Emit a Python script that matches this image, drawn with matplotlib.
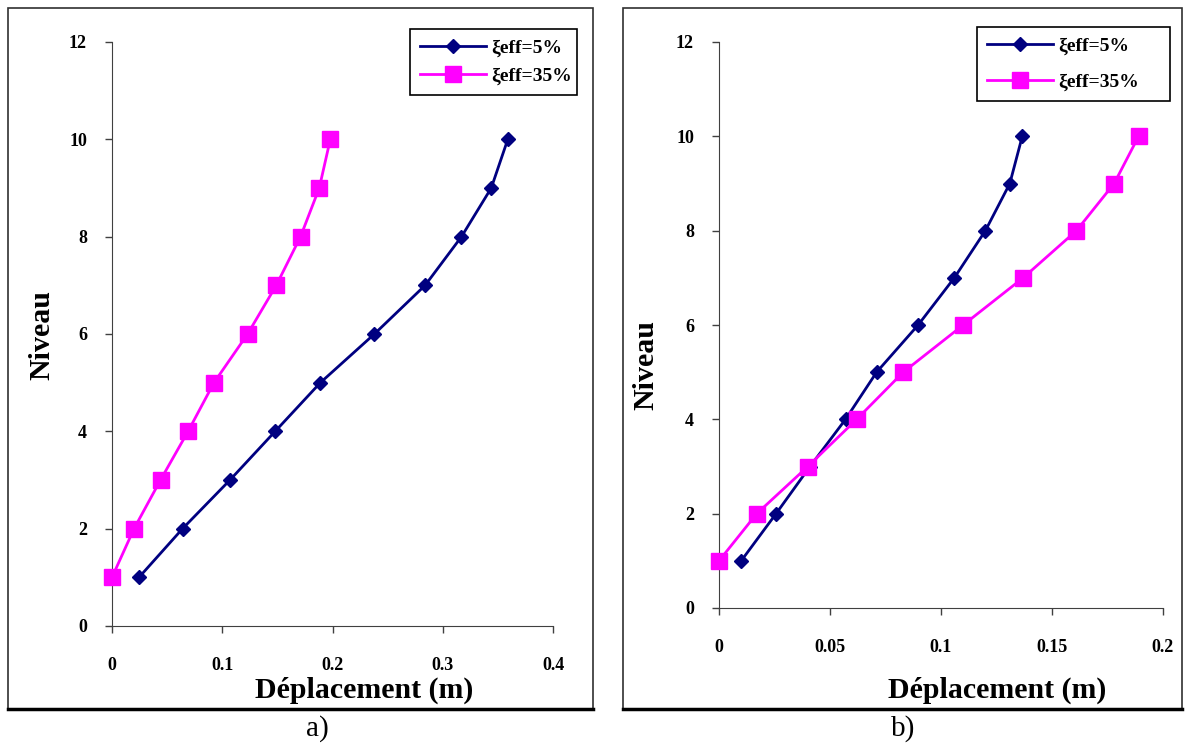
import matplotlib.pyplot as plt
from matplotlib.patches import Rectangle
from matplotlib.lines import Line2D

plt.rcParams['font.family'] = 'Liberation Serif'
plt.rcParams['font.weight'] = 'bold'

niveaux = [1, 2, 3, 4, 5, 6, 7, 8, 9, 10]

# panel a)
dep_a_5 = [0.0245, 0.064, 0.107, 0.148, 0.189, 0.238, 0.284, 0.317, 0.344, 0.359]
dep_a_35 = [0.0, 0.020, 0.044, 0.069, 0.0925, 0.123, 0.149, 0.171, 0.188, 0.198]

# panel b)
dep_b_5 = [0.010, 0.0257, 0.041, 0.057, 0.071, 0.0897, 0.106, 0.120, 0.131, 0.1366]
dep_b_35 = [0.0, 0.017, 0.040, 0.062, 0.083, 0.110, 0.137, 0.161, 0.178, 0.189]

labels = ["\u03beeff=5%", "\u03beeff=35%"]
ticks_a = ["0", "0.1", "0.2", "0.3", "0.4"]
ticks_b = ["0", "0.05", "0.1", "0.15", "0.2"]
bleu = "#000080"
rose = "#FF00FF"

W, H = 1189, 747
fig = plt.figure(figsize=(W / 100, H / 100), dpi=100)


def fx(px):
    return px / W


def fy(py):
    return 1 - py / H


def panel(rect, d5, d35, xmax, xstep, xticklabels, ylab, xlab_x, legend_box, spacing):
    ax = fig.add_axes(rect)
    ax.plot(d5, niveaux, color=bleu, lw=2, marker="D", ms=7, mfc=bleu, mec=bleu,
            label=labels[0], clip_on=False, zorder=3)
    ax.plot(d35, niveaux, color=rose, lw=2, marker="s", ms=11, mfc=rose, mec=rose,
            label=labels[1], clip_on=False, zorder=3)
    ax.set_xlim(0, xmax)
    ax.set_ylim(0, 12)
    ax.set_yticks(range(0, 13, 2))
    ax.set_xticks([i * xstep for i in range(len(xticklabels))])
    ax.set_xticklabels(xticklabels)
    ax.spines["top"].set_visible(False)
    ax.spines["right"].set_visible(False)
    ax.spines["left"].set_color("#404040")
    ax.spines["bottom"].set_color("#404040")
    ax.tick_params(direction="out", length=5, width=1, color="#404040", labelsize=13)
    ax.tick_params(axis="x", pad=17)
    ax.tick_params(axis="y", pad=13)
    for t in ax.get_xticklabels() + ax.get_yticklabels():
        t.set_fontweight("bold")
    fig.text(fx(ylab[0]), fy(ylab[1]), "Niveau", rotation=90, fontsize=21.5,
             fontweight="bold", ha="center", va="center")
    fig.text(fx(xlab_x), fy(690), "D\u00e9placement (m)", fontsize=21.5, fontweight="bold",
             ha="left", va="center")
    handles = [Line2D([], [], color=bleu, lw=2, marker="D", ms=7),
               Line2D([], [], color=rose, lw=2, marker="s", ms=11)]
    x0, y0, x1, y1 = legend_box
    leg = fig.legend(handles, labels, loc="center",
                     bbox_to_anchor=(fx(x0), fy(y1), fx(x1) - fx(x0), fy(y0) - fy(y1)),
                     mode="expand", fancybox=False, framealpha=1, edgecolor="black",
                     prop={"family": "Liberation Serif", "weight": "bold", "size": 14},
                     handlelength=3.4, borderaxespad=0, labelspacing=spacing,
                     handletextpad=0.3, borderpad=0.5)
    leg.get_frame().set_linewidth(1.2)
    return ax


panel([fx(112), fy(626), fx(553) - fx(112), fy(42) - fy(626)], dep_a_5, dep_a_35,
      0.4, 0.1, ticks_a, (42, 335), 255, (410, 27, 577, 97), 0.55)
panel([fx(719), fy(608), fx(1163) - fx(719), fy(42) - fy(608)], dep_b_5, dep_b_35,
      0.2, 0.05, ticks_b, (646, 365), 888, (977, 24, 1170, 104), 0.95)

# cadres autour des deux graphiques
for x0, x1 in [(8, 593), (623, 1182)]:
    fig.patches.append(Rectangle((fx(x0), fy(709)), fx(x1) - fx(x0), fy(8) - fy(709),
                                 transform=fig.transFigure, fill=False, ec="#303030", lw=1.2))
    fig.add_artist(Line2D([fx(x0), fx(x1)], [fy(709), fy(709)], transform=fig.transFigure,
                          color="black", lw=2.5))

fig.text(fx(317), fy(729), "a)", fontsize=21, fontweight="normal", ha="center", va="center")
fig.text(fx(903), fy(729), "b)", fontsize=21, fontweight="normal", ha="center", va="center")

fig.savefig("out.png", dpi=100)
